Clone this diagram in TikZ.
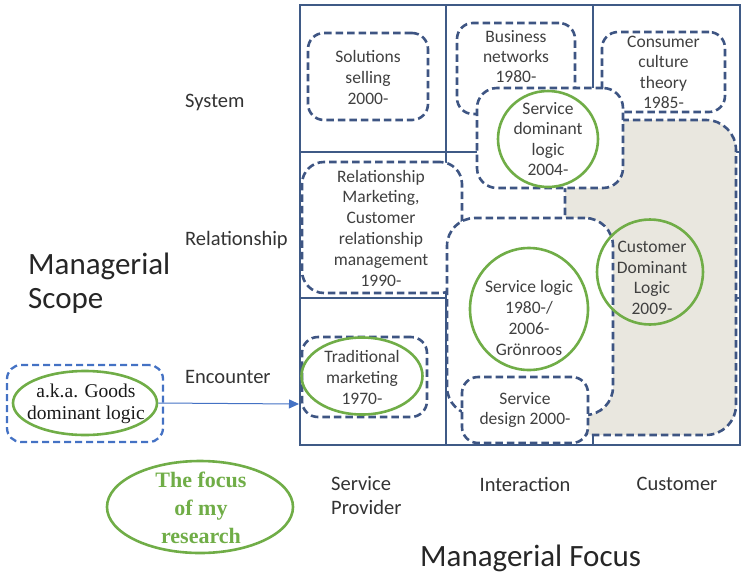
\documentclass[tikz,border=0pt]{standalone}
\usepackage{fontspec}
\setmainfont{Carlito}
\newfontfamily\timesf{Liberation Serif}
\usetikzlibrary{shapes.geometric,arrows.meta}
\definecolor{gridc}{HTML}{3F5A86}
\definecolor{dashc}{HTML}{3E5583}
\definecolor{lblue}{HTML}{4472C4}
\definecolor{grn}{HTML}{70AD47}
\definecolor{graybg}{HTML}{E9E7DF}
\definecolor{txt}{HTML}{404040}
\definecolor{lbl}{HTML}{333333}
\begin{document}
\begin{tikzpicture}[x=1pt,y=-1pt,
  dbox/.style={draw=dashc, line width=2.6pt, dash pattern=on 7.5pt off 4pt, rounded corners=16pt, fill=white, inner sep=0pt},
  gring/.style={draw=grn, line width=2.6pt, ellipse, inner sep=0pt},
  btxt/.style={align=center, text=txt, inner sep=0pt, font=\fontsize{17.5}{21}\selectfont},
  ltxt/.style={align=left, text=lbl, inner sep=0pt, font=\fontsize{20.5}{24}\selectfont},
  bigtxt/.style={align=left, text=black!85, inner sep=0pt, font=\fontsize{31}{34}\selectfont}]
\useasboundingbox (0,0) rectangle (742,574);
% grid
\draw[gridc, line width=2.6pt] (300,5) rectangle (740,445);
\draw[gridc, line width=2.6pt] (446,5) -- (446,445) (593,5) -- (593,445)
  (300,152) -- (740,152) (300,298) -- (740,298);
% customer region
\draw[draw=dashc, line width=2.6pt, dash pattern=on 7.5pt off 4pt, fill=graybg, rounded corners=30pt] (565,120) rectangle (736,435);
% System row boxes
\node[dbox, minimum width=120, minimum height=87] (sol) at (368,76.5) {};
\node[btxt] (solt) at (368,77) {Solutions\\selling\\2000-};
\node[dbox, minimum width=118, minimum height=91] (bn) at (516,68.5) {};
\node[btxt, font=\fontsize{17.5}{20}\selectfont] (bnt) at (516,57) {Business\\networks\\1980-};
\node[dbox, minimum width=123, minimum height=80] (cct) at (663.5,72) {};
\node[btxt, font=\fontsize{17.5}{20.5}\selectfont] (cctt) at (663.5,72.5) {Consumer\\culture\\theory\\1985-};
\node[dbox, minimum width=146, minimum height=100, rounded corners=20pt] (sdl) at (550,138) {};
\node[gring, minimum width=100, minimum height=96] (sdlc) at (548,139) {};
\node[btxt, font=\fontsize{17.5}{20.5}\selectfont] (sdlt) at (548,139) {Service\\dominant\\logic\\2004-};
% Relationship row
\node[dbox, minimum width=160, minimum height=131, rounded corners=22pt] (rm) at (382,227.5) {};
\node[btxt, font=\fontsize{17.5}{20.8}\selectfont] (rmt) at (381,228) {Relationship\\Marketing,\\Customer\\relationship\\management\\1990-};
\node[dbox, minimum width=166, minimum height=197, rounded corners=28pt] (sl) at (530,316.5) {};
\node[gring, minimum width=118, minimum height=122] (slc) at (529,309) {};
\node[btxt, font=\fontsize{17.5}{21.3}\selectfont] (slt) at (529,318) {Service logic\\1980-/\\2006-\\Grönroos};
\node[gring, minimum width=106, minimum height=105] (cdlc) at (650,272) {};
\node[btxt, font=\fontsize{17.5}{20.7}\selectfont] (cdlt) at (652,278) {Customer\\Dominant\\Logic\\2009-};
% Encounter row
\node[dbox, minimum width=126, minimum height=66] (sd) at (525,410) {};
\node[btxt, font=\fontsize{17.5}{20}\selectfont] (sdt) at (525,410) {Service\\design 2000-};
\node[dbox, minimum width=125, minimum height=80] (tm) at (364.5,377) {};
\node[gring, minimum width=121, minimum height=77] (tmc) at (362,376) {};
\node[btxt] (tmt) at (362,377) {Traditional\\marketing\\1970-};
% left box
\node[draw=lblue, line width=2.3pt, dash pattern=on 7pt off 4pt, rounded corners=14pt, minimum width=156, minimum height=77, inner sep=0pt] (gbox) at (85,403.5) {};
\node[gring, minimum width=144, minimum height=64] (goods) at (85,403) {};
\node[align=center, inner sep=0pt, text=black!90, font=\timesf\fontsize{19.5}{22}\selectfont] (goodst) at (86,404) {a.k.a. Goods\\dominant logic};
\coordinate (arrowend) at (299,404);
\draw[lblue, line width=1pt, -{Triangle[length=10pt,width=9pt]}] (goods.east) -- (arrowend);
% focus ellipse
\node[gring, minimum width=186, minimum height=92] (focus) at (200,507) {};
\node[align=center, inner sep=0pt, text=grn, font=\timesf\bfseries\fontsize{22}{28}\selectfont] (focust) at (201,508) {The focus\\of my\\research};
% axis labels
\node[ltxt, anchor=west] (sys) at (185,102) {System};
\node[ltxt, anchor=west] (rel) at (185,240) {Relationship};
\node[ltxt, anchor=west] (enc) at (185,377) {Encounter};
\node[ltxt, anchor=west] (sp) at (331,496) {Service\\Provider};
\node[ltxt, align=center] (inter) at (525,484) {Interaction};
\node[ltxt, align=center] (cust) at (677,484) {Customer};
\node[bigtxt, anchor=west] (mscope) at (28,283) {Managerial\\Scope};
\node[bigtxt, anchor=west] (mfocus) at (420,558) {Managerial Focus};
\end{tikzpicture}
\end{document}
